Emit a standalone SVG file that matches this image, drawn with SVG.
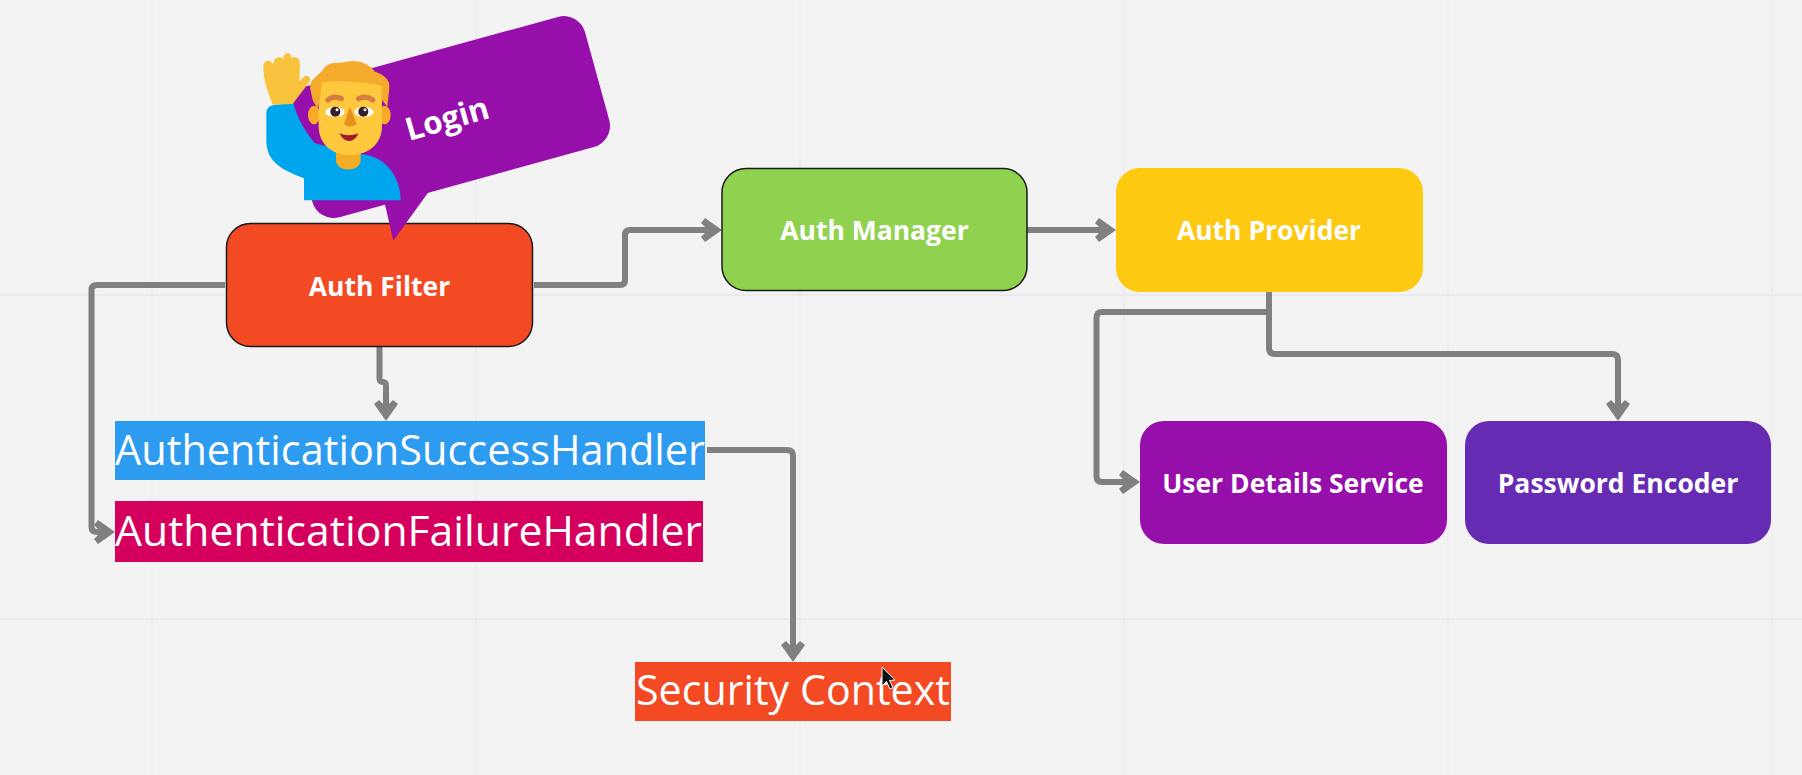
<svg xmlns="http://www.w3.org/2000/svg" width="1802" height="775" viewBox="0 0 1802 775">
<style>
.gv{stroke:#ececee;stroke-width:1.500;fill:none}
.gh{stroke:#e8e8ea;stroke-width:1.500;fill:none}
.c{fill:none;stroke:#808080;stroke-width:6;stroke-linejoin:round}
.n{font-family:"Open Sans","Noto Sans",sans-serif;font-weight:700;font-size:26.500px;fill:#fff;text-anchor:middle}
.h{font-family:"Open Sans","Noto Sans",sans-serif;font-size:41.500px;fill:#fff}
.b{stroke:#1a1a1a;stroke-width:1.500}
</style>
<defs>
<marker id="a" markerUnits="userSpaceOnUse" markerWidth="28" markerHeight="28" refX="13" refY="12" orient="auto" overflow="visible">
<path d="M21 12L4 0L0 5L7 12L0 19L4 24Z" fill="#808080"/>
</marker>
</defs>
<rect width="1802" height="775" fill="#f3f3f4"/>
<g id="grid">
<path class="gv" d="M152 0V775M476 0V775M800 0V775M1124 0V775M1448 0V775M1772 0V775"/>
<path class="gh" d="M0 295H1802M0 619H1802"/>
</g>
<g id="connectors">
<path class="c" marker-end="url(#a)" d="M534 285H620Q625 285 625 280V235Q625 230 630 230H714"/>
<path class="c" marker-end="url(#a)" d="M225 285H97Q91.500 285 91.500 290V527Q91.500 532 97 532H107"/>
<path class="c" marker-end="url(#a)" d="M379.500 347V378Q379.500 382 383 382Q386 382 386 386V413"/>
<path class="c" marker-end="url(#a)" d="M1027 230H1108"/>
<path class="c" marker-end="url(#a)" d="M1269 292V312H1102Q1096.500 312 1096.500 318V476Q1096.500 482 1102 482H1132"/>
<path class="c" marker-end="url(#a)" d="M1269 312V348Q1269 354 1275 354H1612Q1618 354 1618 360V413"/>
<path class="c" marker-end="url(#a)" d="M707 450H787Q793 450 793 456V654"/>
</g>
<g id="auth-filter">
<rect class="b" x="226.500" y="223.500" width="306" height="123" rx="24" fill="#f44a23"/>
<text class="n" x="379.500" y="296">Auth Filter</text>
</g>
<g id="auth-manager">
<rect class="b" x="722" y="168.500" width="305" height="122" rx="24" fill="#8fd24f"/>
<text class="n" x="874.500" y="240">Auth Manager</text>
</g>
<g id="auth-provider">
<rect x="1116" y="168" width="307" height="124" rx="24" fill="#fdc911"/>
<text class="n" x="1269" y="240">Auth Provider</text>
</g>
<g id="user-details-service">
<rect x="1140" y="421" width="307" height="123" rx="24" fill="#960fab"/>
<text class="n" x="1293" y="493">User Details Service</text>
</g>
<g id="password-encoder">
<rect x="1465" y="421" width="306" height="123" rx="24" fill="#662bb3"/>
<text class="n" x="1618" y="493">Password Encoder</text>
</g>
<g id="success-handler">
<rect x="115" y="421" width="590" height="59" fill="#2d9bf0"/>
<text class="h" x="115" y="465" textLength="590" lengthAdjust="spacingAndGlyphs">AuthenticationSuccessHandler</text>
</g>
<g id="failure-handler">
<rect x="115" y="501" width="588" height="61" fill="#d5005e"/>
<text class="h" x="115" y="546" textLength="587" lengthAdjust="spacingAndGlyphs">AuthenticationFailureHandler</text>
</g>
<g id="security-context">
<rect x="635" y="662" width="316" height="59" fill="#f44a23"/>
<text class="h" x="636" y="705" textLength="314" lengthAdjust="spacingAndGlyphs">Security Context</text>
</g>
<g id="login">
<g fill="#960fab">
<rect x="-8" y="0" width="308" height="135" rx="22" transform="translate(290 90.700) rotate(-15.400)"/>
<path d="M384 200L393.300 240.700L430 190Z"/>
</g>
<text x="409" y="141" transform="rotate(-15.900 409 141)" font-family="'Open Sans','Noto Sans',sans-serif" font-weight="700" font-size="31.500" fill="#fff">Login</text>
</g>
<g id="man" transform="translate(200 0) scale(0.3333)">
<path fill="#00a6ed" d="M312 601V535C250 510 199 490 199 420V340Q199 315 228 314L280 308C290 350 315 395 345 430L470 462C550 460 602 525 602 601Z"/>
<path fill="#f9c23c" d="M218 314C208 285 190 245 190 200C190 178 216 176 219 196C218 170 246 164 249 178C251 153 274 153 276 176C282 166 300 170 300 192L298 244L312 230C322 222 337 235 328 246L278 312Z"/>
<path fill="#f3ad26" d="M408 450H482V480C482 518 408 518 408 480Z"/>
<ellipse cx="342" cy="345" rx="18" ry="28" fill="#f9ab28"/>
<ellipse cx="554" cy="345" rx="18" ry="28" fill="#f9ab28"/>
<path fill="#ffc83d" d="M356 235H546V378C546 432 505 465 450 465C395 465 356 432 356 378Z"/>
<path fill="#f4ab2c" d="M330 262C332 232 355 232 372 205C390 180 420 192 440 185C470 178 505 188 525 215C548 222 572 238 568 265L562 320L546 300L545 258C510 248 410 238 365 248L360 300L352 325L338 300Z"/>
<path fill="none" stroke="#d67d41" stroke-width="16" stroke-linecap="round" d="M384 300Q402 285 424 296M476 296Q498 285 518 300"/>
<ellipse cx="405" cy="336" rx="29" ry="15" fill="#fff"/>
<ellipse cx="492" cy="336" rx="29" ry="15" fill="#fff"/>
<circle cx="406" cy="335" r="15" fill="#372128"/>
<circle cx="490" cy="335" r="15" fill="#372128"/>
<circle cx="411" cy="329" r="4.500" fill="#fff"/>
<circle cx="495" cy="329" r="4.500" fill="#fff"/>
<path fill="#e8911a" d="M448 325H452L470 372Q450 388 432 372Z"/>
<path fill="#a01b2c" d="M418 400Q447 412 476 400Q464 424 447 423Q430 423 418 400Z"/>
</g>
<path id="cursor" d="M882 667L882 686L886.500 681.500L890 689L893 687.500L889.500 680.500L895 680Z" fill="#111" stroke="#fff" stroke-width="1"/>
</svg>
